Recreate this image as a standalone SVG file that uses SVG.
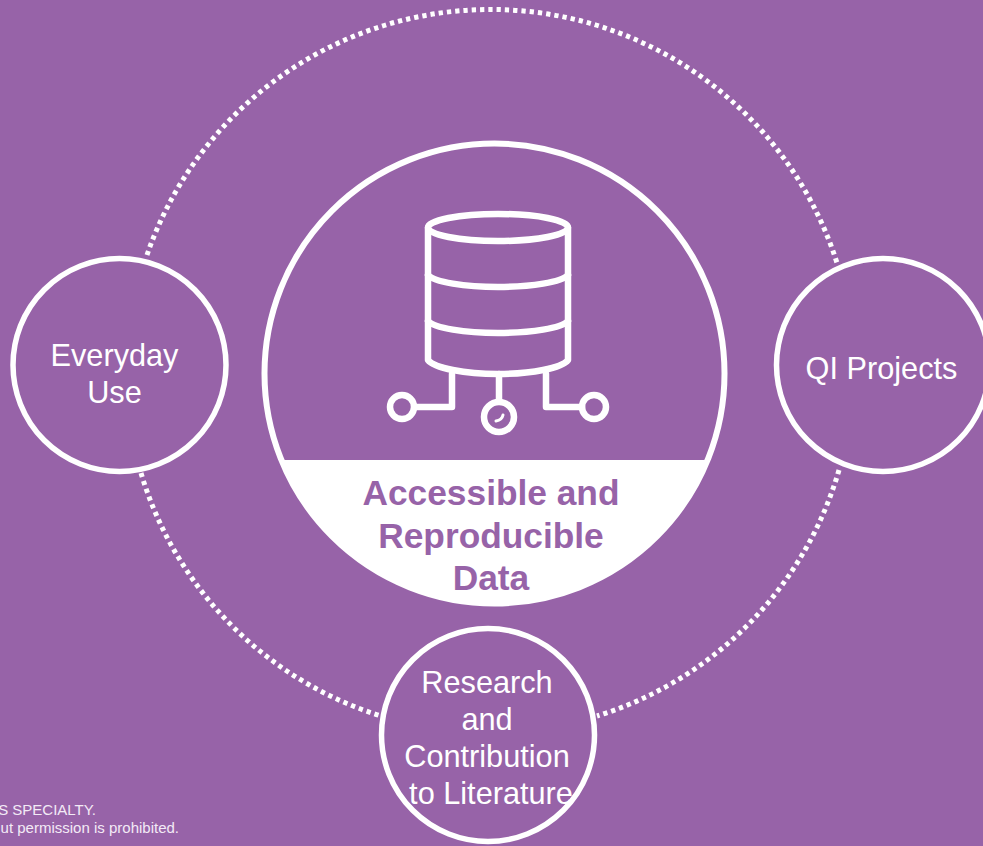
<svg xmlns="http://www.w3.org/2000/svg" width="983" height="846" viewBox="0 0 983 846">
<style>
.node{fill:#9763a8;stroke:#fff;stroke-width:5.500}
.dot{fill:none;stroke:#fff;stroke-width:5;stroke-dasharray:4.300 4}
.ic{fill:none;stroke:#fff;stroke-width:6.500;stroke-linejoin:round;stroke-linecap:round}
text{font-family:"Liberation Sans",Arial,sans-serif;text-anchor:middle}
.lb{font-size:30.700px;fill:#fff}
.hd{font-size:35.300px;font-weight:700;fill:#9763a8}
.ft{font-size:15px;fill:#f3eaf6;text-anchor:end}
</style>
<rect width="983" height="846" fill="#9763a8"/>
<g id="connectors">
<path class="dot" d="M147 255A363.300 363.300 0 0 1 837 263"/>
<path class="dot" d="M141 473A363 363 0 0 0 381 716"/>
<path class="dot" d="M839 470A363 363 0 0 1 597 716"/>
</g>
<g id="center-node">
<circle cx="494.500" cy="373.500" r="230" fill="#9763a8" stroke="#fff" stroke-width="6"/>
<path d="M280.500 460H708.500A231 231 0 0 1 280.500 460Z" fill="#fff"/>
<g class="ic">
<ellipse cx="498" cy="227.500" rx="70" ry="13.500"/>
<path d="M428 228V360C434 368 465 374 498 374S562 368 568 360V228"/>
<path d="M428 275C434 282 465 287 498 287S562 282 568 275"/>
<path d="M428 321C434 328 465 333 498 333S562 328 568 321"/>
<path d="M452 374V407H415M499 374V400M546 374V407H582"/>
<circle cx="402" cy="407" r="12"/>
<circle cx="499" cy="417" r="15"/>
<circle cx="594" cy="407" r="12"/>
</g>
<path d="M496 421Q502 420 503 415" fill="none" stroke="#fff" stroke-width="3" stroke-linecap="round"/>
<text class="hd" x="491" y="505">Accessible and</text>
<text class="hd" x="491" y="548">Reproducible</text>
<text class="hd" x="491" y="590">Data</text>
</g>
<g id="everyday-use">
<circle class="node" cx="119.500" cy="365" r="106.500"/>
<text class="lb" x="114.500" y="366">Everyday</text>
<text class="lb" x="114.500" y="403">Use</text>
</g>
<g id="qi-projects">
<circle class="node" cx="883" cy="365" r="106.500"/>
<text class="lb" x="881.500" y="379">QI Projects</text>
</g>
<g id="research">
<circle class="node" cx="488" cy="735" r="106.500"/>
<text class="lb" x="487" y="693">Research</text>
<text class="lb" x="487" y="730">and</text>
<text class="lb" x="487" y="767">Contribution</text>
<text class="lb" x="491" y="804">to Literature</text>
</g>
<g id="footer">
<text class="ft" x="96" y="815">S SPECIALTY.</text>
<text class="ft" x="179" y="833">ut permission is prohibited.</text>
</g>
</svg>
